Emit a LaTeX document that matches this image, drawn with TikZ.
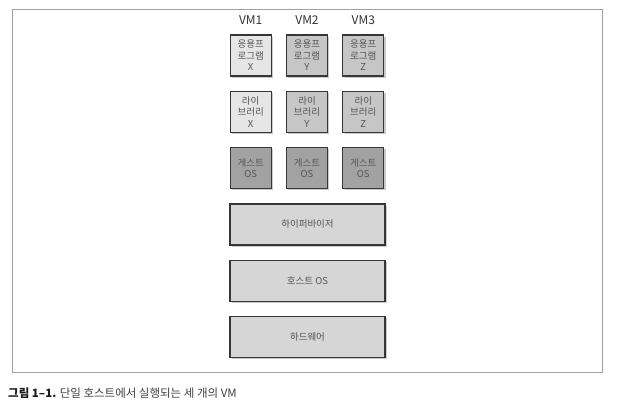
\documentclass[tikz,border=0pt]{standalone}
\usepackage{fontspec}
\setmainfont{Noto Sans CJK KR}
\usetikzlibrary{shadows}
\newcommand{\s}{56.3}
\definecolor{boxline}{HTML}{363636}
\definecolor{boxtext}{HTML}{555555}
\definecolor{vmlight}{HTML}{E6E6E6}
\definecolor{vmmid}{HTML}{C6C6C6}
\definecolor{vmdark}{HTML}{A2A2A2}
\definecolor{layer}{HTML}{D6D6D6}
\definecolor{framegray}{HTML}{A0A0A0}

\begin{document}
\begin{tikzpicture}[x=1pt, y=-1pt,
    box/.style={draw=boxline, line width=1.2pt, rectangle, minimum width=41pt, minimum height=41pt, inner sep=0pt, align=center, text=boxtext, font=\fontsize{9.5}{11.5}\selectfont, drop shadow={shadow xshift=1.8pt, shadow yshift=-1.8pt, fill=black!70, opacity=0.3}},
    wide/.style={box, minimum width=155pt, font=\fontsize{9.5}{11}\selectfont},
    vm/.style={font=\fontsize{12}{14}\selectfont, text=black!80}]
    \useasboundingbox (0,0) rectangle (631,412);
    \draw[framegray, line width=0.8pt] (12,9) rectangle (602,372);

    % VM labels
    \node[vm] (vm-1) at (307-\s,20) {VM1};
    \node[vm] (vm-2) at (307,20) {VM2};
    \node[vm] (vm-3) at (307+\s,20) {VM3};

    % Applications
    \node[box, fill=vmlight] (app-1) at (307-\s,55.5) {응용프\\로그램\\X};
    \node[box, fill=vmmid] (app-2) at (307,55.5) {응용프\\로그램\\Y};
    \node[box, fill=vmmid] (app-3) at (307+\s,55.5) {응용프\\로그램\\Z};

    % Libraries
    \node[box, fill=vmlight] (lib-1) at (307-\s,55.5+\s) {라이\\브러리\\X};
    \node[box, fill=vmmid] (lib-2) at (307,55.5+\s) {라이\\브러리\\Y};
    \node[box, fill=vmmid] (lib-3) at (307+\s,55.5+\s) {라이\\브러리\\Z};

    % Guest OS
    \node[box, fill=vmdark] (guest-1) at (307-\s,55.5+2*\s) {게스트\\OS};
    \node[box, fill=vmdark] (guest-2) at (307,55.5+2*\s) {게스트\\OS};
    \node[box, fill=vmdark] (guest-3) at (307+\s,55.5+2*\s) {게스트\\OS};

    % Shared layers
    \node[wide, fill=layer] (hypervisor) at (307.5,55.5+3*\s) {하이퍼바이저};
    \node[wide, fill=layer] (host) at (307.5,55.5+4*\s) {호스트 OS};
    \node[wide, fill=layer] (hardware) at (307.5,55.5+5*\s) {하드웨어};

    \node[anchor=west, inner sep=0pt, font=\fontsize{11.5}{13}\selectfont, text=black!75] (caption) at (8,393) {\textbf{\color{black!90}그림 1–1.} 단일 호스트에서 실행되는 세 개의 VM};
\end{tikzpicture}
\end{document}
